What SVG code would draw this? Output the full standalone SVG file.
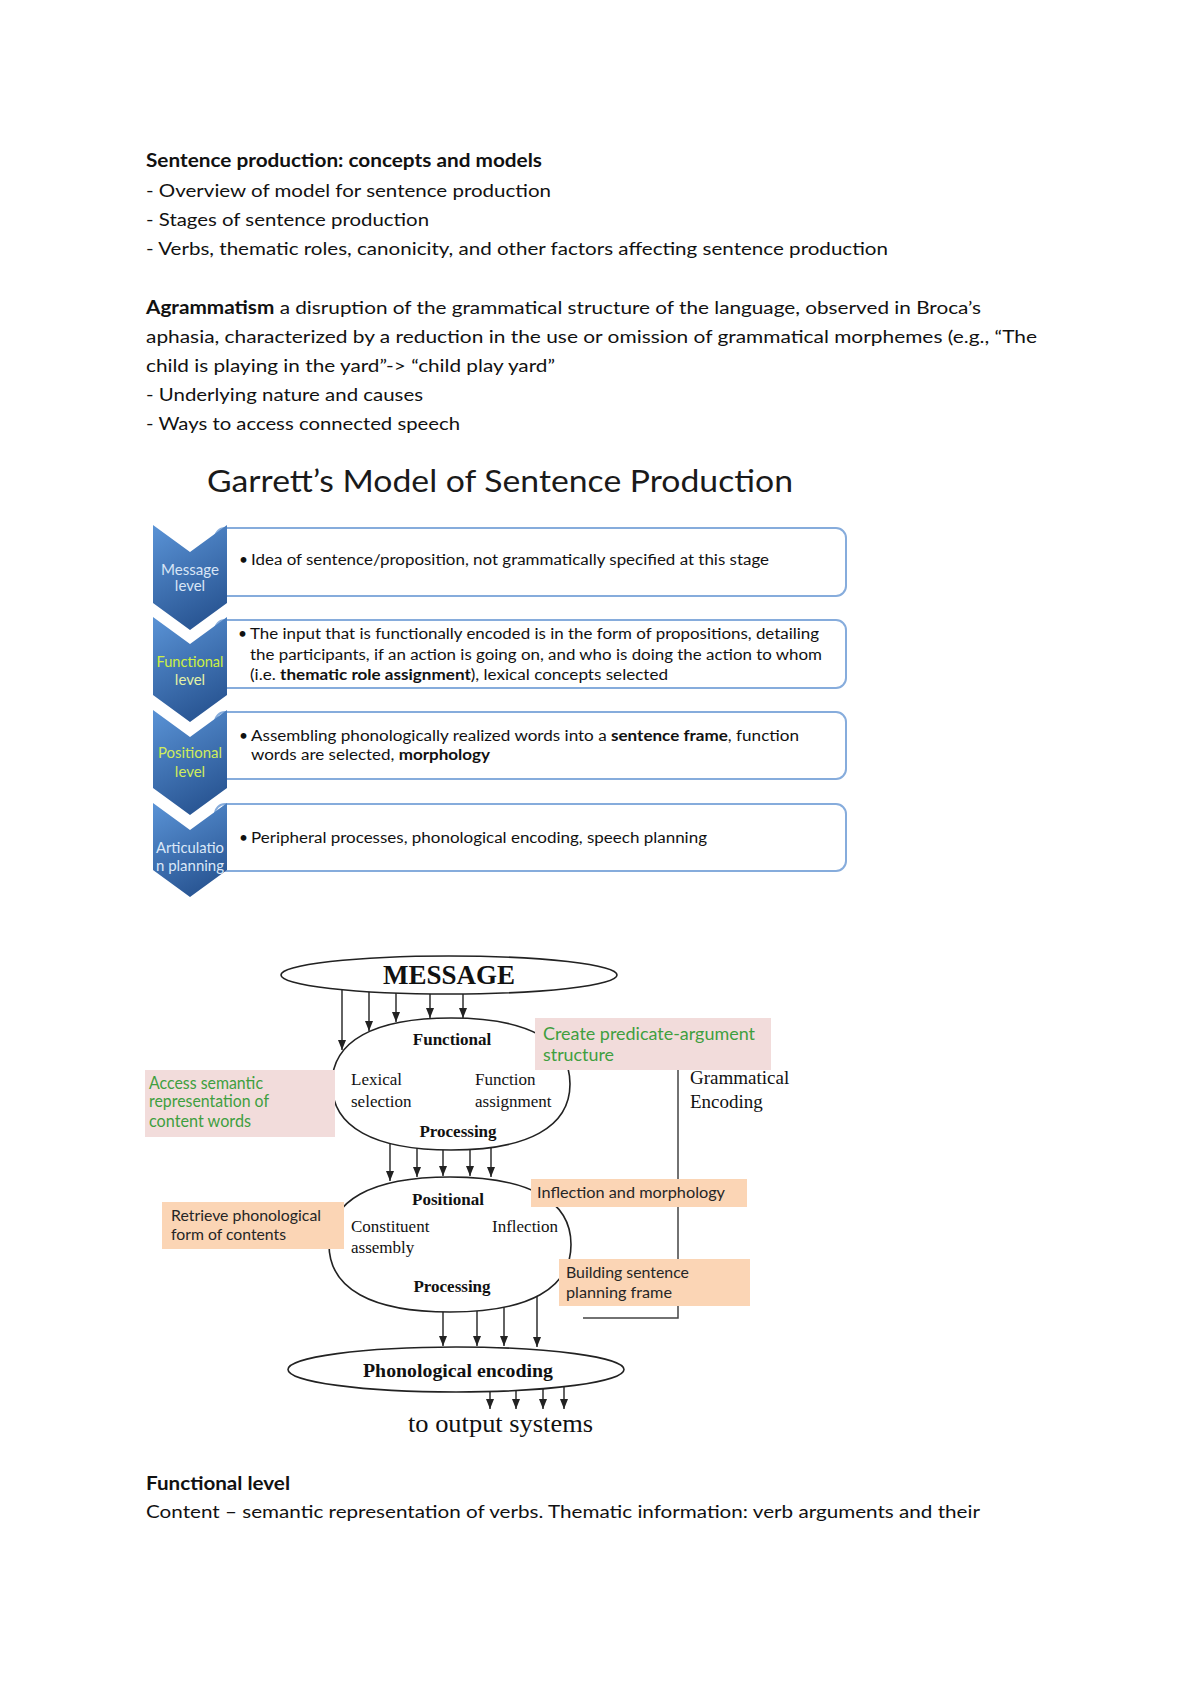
<svg xmlns="http://www.w3.org/2000/svg" width="1200" height="1698" viewBox="0 0 1200 1698">
<defs>
<style>
.t{font-family:Lato,"Liberation Sans",sans-serif;font-size:18px;fill:#111}
.b{font-weight:bold}
.bx{font-family:Lato,"Liberation Sans",sans-serif;font-size:15.5px;fill:#111}
.cl{font-family:Lato,"Liberation Sans",sans-serif;font-size:15px;text-anchor:middle}
.sf{font-family:"Liberation Serif","Times New Roman",serif;fill:#111}
.box{fill:#fff;stroke:#86acdc;stroke-width:2}
.chev{fill:url(#cg)}
.ell{fill:#fff;stroke:#222;stroke-width:1.6}
.pink{fill:#f2dcdb}
.peach{fill:#fbd5b5}
.gr{font-family:Lato,"Liberation Sans",sans-serif;font-size:16.5px;fill:#3f9f3f}
.pe{font-family:Lato,"Liberation Sans",sans-serif;font-size:16px;fill:#262626}
.ar{stroke:#222;stroke-width:1.4;fill:none;marker-end:url(#ah)}
.ln{stroke:#444;stroke-width:1.5;fill:none}
</style>
<linearGradient id="cg" x1="0" y1="0" x2="0.4" y2="1">
<stop offset="0" stop-color="#5a93d6"/>
<stop offset="1" stop-color="#2b5896"/>
</linearGradient>
<marker id="ah" viewBox="0 0 10 8" refX="10" refY="4" markerWidth="10" markerHeight="8" markerUnits="userSpaceOnUse" orient="auto">
<path d="M0,0 L10,4 L0,8 Z" fill="#222"/>
</marker>
</defs>
<rect width="1200" height="1698" fill="#fff"/>

<g id="intro">
<text class="t b" x="146" y="167" textLength="396" lengthAdjust="spacingAndGlyphs">Sentence production: concepts and models</text>
<text class="t" x="146" y="197" textLength="405" lengthAdjust="spacingAndGlyphs">- Overview of model for sentence production</text>
<text class="t" x="146" y="226" textLength="283" lengthAdjust="spacingAndGlyphs">- Stages of sentence production</text>
<text class="t" x="146" y="255" textLength="742" lengthAdjust="spacingAndGlyphs">- Verbs, thematic roles, canonicity, and other factors affecting sentence production</text>
<text class="t" x="146" y="314" textLength="835" lengthAdjust="spacingAndGlyphs"><tspan class="b">Agrammatism</tspan> a disruption of the grammatical structure of the language, observed in Broca’s</text>
<text class="t" x="146" y="343" textLength="891" lengthAdjust="spacingAndGlyphs">aphasia, characterized by a reduction in the use or omission of grammatical morphemes (e.g., “The</text>
<text class="t" x="146" y="372" textLength="409" lengthAdjust="spacingAndGlyphs">child is playing in the yard”-&gt; “child play yard”</text>
<text class="t" x="146" y="401" textLength="277" lengthAdjust="spacingAndGlyphs">- Underlying nature and causes</text>
<text class="t" x="146" y="430" textLength="314" lengthAdjust="spacingAndGlyphs">- Ways to access connected speech</text>
</g>

<g id="garrett-title">
<text x="207" y="492" font-family="Lato,'Liberation Sans',sans-serif" font-size="31" fill="#1a1a1a" textLength="586" lengthAdjust="spacingAndGlyphs">Garrett’s Model of Sentence Production</text>
</g>

<g id="stage-message">
<rect class="box" x="215" y="528" width="631" height="68" rx="10"/>
<polygon class="chev" points="153,525 190,552 227,525 227,603 190,630 153,603"/>
<text class="cl" x="190" y="575" fill="#d8e5f6" textLength="58" lengthAdjust="spacingAndGlyphs">Message</text>
<text class="cl" x="190" y="591" fill="#d8e5f6">level</text>
<text class="bx" x="239" y="565">•</text>
<text class="bx" x="251" y="565" textLength="518" lengthAdjust="spacingAndGlyphs">Idea of sentence/proposition, not grammatically specified at this stage</text>
</g>

<g id="stage-functional">
<rect class="box" x="215" y="620" width="631" height="68" rx="10"/>
<polygon class="chev" points="153,617 190,644 227,617 227,695 190,722 153,695"/>
<text class="cl" x="190" y="667" fill="#cdf043" textLength="67" lengthAdjust="spacingAndGlyphs">Functional</text>
<text class="cl" x="190" y="685" fill="#e3f2a6">level</text>
<text class="bx" x="238" y="639">•</text>
<text class="bx" x="250" y="639" textLength="569" lengthAdjust="spacingAndGlyphs">The input that is functionally encoded is in the form of propositions, detailing</text>
<text class="bx" x="250" y="660" textLength="572" lengthAdjust="spacingAndGlyphs">the participants, if an action is going on, and who is doing the action to whom</text>
<text class="bx" x="250" y="680" textLength="418" lengthAdjust="spacingAndGlyphs">(i.e. <tspan class="b">thematic role assignment</tspan>), lexical concepts selected</text>
</g>

<g id="stage-positional">
<rect class="box" x="215" y="712" width="631" height="67" rx="10"/>
<polygon class="chev" points="153,710 190,737 227,710 227,788 190,815 153,788"/>
<text class="cl" x="190" y="758" fill="#cfec5c" textLength="64" lengthAdjust="spacingAndGlyphs">Positional</text>
<text class="cl" x="190" y="777" fill="#cfec5c">level</text>
<text class="bx" x="239" y="741">•</text>
<text class="bx" x="251" y="741" textLength="548" lengthAdjust="spacingAndGlyphs">Assembling phonologically realized words into a <tspan class="b">sentence  frame</tspan>, function</text>
<text class="bx" x="251" y="760" textLength="239" lengthAdjust="spacingAndGlyphs">words are selected, <tspan class="b">morphology</tspan></text>
</g>

<g id="stage-articulation">
<rect class="box" x="215" y="804" width="631" height="67" rx="10"/>
<polygon class="chev" points="153,803 190,830 227,803 227,870 190,897 153,870"/>
<text class="cl" x="190" y="853" fill="#dbe8f8" textLength="68" lengthAdjust="spacingAndGlyphs">Articulatio</text>
<text class="cl" x="190" y="871" fill="#dbe8f8" textLength="68" lengthAdjust="spacingAndGlyphs">n planning</text>
<text class="bx" x="239" y="843">•</text>
<text class="bx" x="251" y="843" textLength="456" lengthAdjust="spacingAndGlyphs">Peripheral processes, phonological encoding, speech planning</text>
</g>

<g id="connectors">
<path class="ln" d="M678,1070 V1318 H583"/>
<line class="ar" x1="342" y1="985" x2="342" y2="1050"/>
<line class="ar" x1="369" y1="985" x2="369" y2="1031"/>
<line class="ar" x1="396" y1="985" x2="396" y2="1022"/>
<line class="ar" x1="430" y1="985" x2="430" y2="1018"/>
<line class="ar" x1="463" y1="985" x2="463" y2="1018"/>
<line class="ar" x1="390" y1="1135" x2="390" y2="1181"/>
<line class="ar" x1="417" y1="1135" x2="417" y2="1177"/>
<line class="ar" x1="443" y1="1135" x2="443" y2="1176"/>
<line class="ar" x1="470" y1="1135" x2="470" y2="1176"/>
<line class="ar" x1="491" y1="1135" x2="491" y2="1177"/>
<line class="ar" x1="443" y1="1295" x2="443" y2="1346"/>
<line class="ar" x1="477" y1="1295" x2="477" y2="1346"/>
<line class="ar" x1="504" y1="1295" x2="504" y2="1346"/>
<line class="ar" x1="537" y1="1290" x2="537" y2="1347"/>
<line class="ar" x1="490" y1="1380" x2="490" y2="1409"/>
<line class="ar" x1="516" y1="1380" x2="516" y2="1409"/>
<line class="ar" x1="543" y1="1380" x2="543" y2="1409"/>
<line class="ar" x1="564" y1="1380" x2="564" y2="1409"/>
</g>

<g id="message">
<ellipse class="ell" cx="449" cy="975" rx="168" ry="19"/>
<text class="sf b" x="449" y="984" font-size="27" text-anchor="middle">MESSAGE</text>
</g>

<g id="functional">
<path class="ell" d="M332,1084 C332,1041 374,1018 451,1018 C528,1018 570,1041 570,1084 C570,1127 528,1150 451,1150 C374,1150 332,1127 332,1084Z"/>
<text class="sf b" x="452" y="1045" font-size="17" text-anchor="middle">Functional</text>
<text class="sf" x="351" y="1085" font-size="17">Lexical</text>
<text class="sf" x="351" y="1107" font-size="17">selection</text>
<text class="sf" x="475" y="1085" font-size="17">Function</text>
<text class="sf" x="475" y="1107" font-size="17">assignment</text>
<text class="sf b" x="458" y="1137" font-size="17" text-anchor="middle">Processing</text>
</g>

<g id="positional">
<path class="ell" d="M329,1244.5 C329,1200.5 371,1177 450,1177 C529,1177 571,1200.5 571,1244.5 C571,1288.5 529,1312 450,1312 C371,1312 329,1288.5 329,1244.5Z"/>
<text class="sf b" x="448" y="1205" font-size="17" text-anchor="middle">Positional</text>
<text class="sf" x="351" y="1232" font-size="17">Constituent</text>
<text class="sf" x="351" y="1253" font-size="17">assembly</text>
<text class="sf" x="492" y="1232" font-size="17">Inflection</text>
<text class="sf b" x="452" y="1292" font-size="17" text-anchor="middle">Processing</text>
</g>

<g id="phonological">
<ellipse class="ell" cx="456" cy="1369.5" rx="168" ry="22.5"/>
<text class="sf b" x="458" y="1377" font-size="19.5" text-anchor="middle" textLength="190" lengthAdjust="spacingAndGlyphs">Phonological encoding</text>
</g>

<g id="output">
<text class="sf" x="408" y="1432" font-size="26" textLength="185" lengthAdjust="spacingAndGlyphs">to output systems</text>
</g>

<g id="grammatical-encoding">
<text class="sf" x="690" y="1084" font-size="19">Grammatical</text>
<text class="sf" x="690" y="1108" font-size="19">Encoding</text>
</g>

<g id="note-predicate">
<rect class="pink" x="535" y="1018" width="236" height="52"/>
<text class="gr" x="543" y="1040" textLength="212" lengthAdjust="spacingAndGlyphs">Create predicate-argument</text>
<text class="gr" x="543" y="1061" textLength="71" lengthAdjust="spacingAndGlyphs">structure</text>
</g>

<g id="note-semantic">
<rect class="pink" x="145" y="1070" width="190" height="67"/>
<text class="gr" x="149" y="1089" font-size="16" textLength="114" lengthAdjust="spacingAndGlyphs">Access semantic</text>
<text class="gr" x="149" y="1107" font-size="16" textLength="120" lengthAdjust="spacingAndGlyphs">representation of</text>
<text class="gr" x="149" y="1127" font-size="16" textLength="102" lengthAdjust="spacingAndGlyphs">content words</text>
</g>

<g id="note-inflection">
<rect class="peach" x="531" y="1179" width="216" height="28"/>
<text class="pe" x="537" y="1198" textLength="188" lengthAdjust="spacingAndGlyphs">Inflection and morphology</text>
</g>

<g id="note-retrieve">
<rect class="peach" x="162" y="1202" width="182" height="47"/>
<text class="pe" x="171" y="1221" textLength="150" lengthAdjust="spacingAndGlyphs">Retrieve phonological</text>
<text class="pe" x="171" y="1240" textLength="115" lengthAdjust="spacingAndGlyphs">form of contents</text>
</g>

<g id="note-building">
<rect class="peach" x="559" y="1259" width="191" height="47"/>
<text class="pe" x="566" y="1278" textLength="123" lengthAdjust="spacingAndGlyphs">Building sentence</text>
<text class="pe" x="566" y="1298" textLength="106" lengthAdjust="spacingAndGlyphs">planning frame</text>
</g>

<g id="functional-level-notes">
<text class="t b" x="146" y="1490" textLength="144" lengthAdjust="spacingAndGlyphs">Functional level</text>
<text class="t" x="146" y="1518" textLength="834" lengthAdjust="spacingAndGlyphs">Content – semantic representation of verbs. Thematic information: verb arguments and their</text>
</g>
</svg>
